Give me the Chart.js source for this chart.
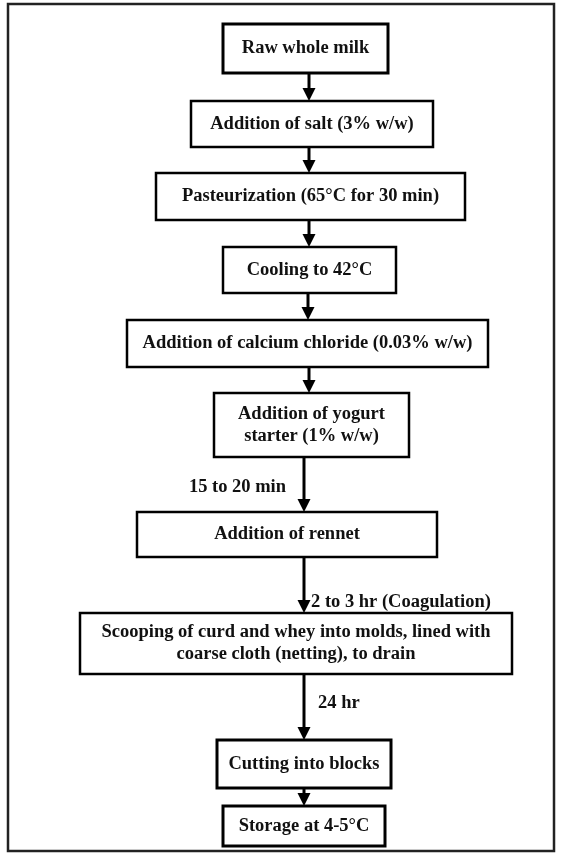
<!DOCTYPE html>
<html>
<head>
<meta charset="utf-8">
<script src="https://cdn.jsdelivr.net/npm/chart.js@4.4.1/dist/chart.umd.min.js"></script>
<style>
  html, body { margin: 0; padding: 0; background: #fff; }
  #wrap { width: 561px; height: 853px; }
</style>
</head>
<body>
<div id="wrap"><canvas id="flow"></canvas></div>
<script>
// process steps, top to bottom
const steps = [
  'Raw whole milk',
  'Addition of salt (3% w/w)',
  'Pasteurization (65°C for 30 min)',
  'Cooling to 42°C',
  'Addition of calcium chloride (0.03% w/w)',
  ['Addition of yogurt', 'starter (1% w/w)'],
  'Addition of rennet',
  ['Scooping of curd and whey into molds, lined with', 'coarse cloth (netting), to drain'],
  'Cutting into blocks',
  'Storage at 4-5°C'
];

// text written next to each arrow (arrow i goes from step i to step i+1)
const arrowLabels = ['', '', '', '', '', '15 to 20 min', '2 to 3 hr (Coagulation)', '24 hr', ''];

// layout, in chart units (0..561 across, 0..853 down)
const boxes = [
  { x0: 223, x1: 388, y0: 24,  y1: 73,  lw: 3 },
  { x0: 191, x1: 433, y0: 101, y1: 147, lw: 2.5 },
  { x0: 156, x1: 465, y0: 173, y1: 220, lw: 2.5 },
  { x0: 223, x1: 396, y0: 247, y1: 293, lw: 2.5 },
  { x0: 127, x1: 488, y0: 320, y1: 367, lw: 2.5 },
  { x0: 214, x1: 409, y0: 393, y1: 457, lw: 2.5 },
  { x0: 137, x1: 437, y0: 512, y1: 557, lw: 2.5 },
  { x0: 80,  x1: 512, y0: 613, y1: 674, lw: 2.5 },
  { x0: 217, x1: 391, y0: 740, y1: 788, lw: 3 },
  { x0: 223, x1: 385, y0: 806, y1: 846, lw: 3 }
];
const arrowX = [309, 309, 309, 308, 309, 304, 304, 304, 304];
const labelPos = [null, null, null, null, null,
  { x: 286, y: 487, align: 'right' },
  { x: 311, y: 602, align: 'left' },
  { x: 318, y: 703, align: 'left' },
  null];
const frame = { x0: 8, x1: 554, y0: 4, y1: 851 };

const FONT = 'bold 18.5px "Liberation Serif", "Times New Roman", serif';
const LINE_H = 22;

const flowPlugin = {
  id: 'flow',
  afterDatasetsDraw(chart) {
    const { ctx, scales: { x, y } } = chart;
    const px = v => x.getPixelForValue(v);
    const py = v => y.getPixelForValue(v);
    ctx.save();

    // outer frame
    ctx.strokeStyle = '#222';
    ctx.lineWidth = 2.5;
    ctx.strokeRect(px(frame.x0), py(frame.y0), px(frame.x1) - px(frame.x0), py(frame.y1) - py(frame.y0));

    // arrows
    ctx.fillStyle = '#000';
    ctx.strokeStyle = '#000';
    arrowX.forEach((ax, i) => {
      const from = boxes[i], to = boxes[i + 1];
      const xx = px(ax), top = py(from.y1), tip = py(to.y0);
      const head = 13, half = 6.5;
      ctx.lineWidth = 3;
      ctx.beginPath();
      ctx.moveTo(xx, top);
      ctx.lineTo(xx, tip - head + 1);
      ctx.stroke();
      ctx.beginPath();
      ctx.moveTo(xx - half, tip - head);
      ctx.lineTo(xx + half, tip - head);
      ctx.lineTo(xx, tip);
      ctx.closePath();
      ctx.fill();

      const lp = labelPos[i];
      if (lp && arrowLabels[i]) {
        ctx.fillStyle = '#111';
        ctx.font = FONT;
        ctx.textAlign = lp.align;
        ctx.textBaseline = 'middle';
        ctx.fillText(arrowLabels[i], px(lp.x), py(lp.y));
        ctx.fillStyle = '#000';
      }
    });

    // boxes and their text
    steps.forEach((label, i) => {
      const b = boxes[i];
      const bx = px(b.x0), by = py(b.y0);
      const bw = px(b.x1) - bx, bh = py(b.y1) - by;
      ctx.fillStyle = '#fff';
      ctx.fillRect(bx, by, bw, bh);
      ctx.strokeStyle = '#000';
      ctx.lineWidth = b.lw;
      ctx.strokeRect(bx, by, bw, bh);

      const lines = Array.isArray(label) ? label : [label];
      ctx.fillStyle = '#111';
      ctx.font = FONT;
      ctx.textAlign = 'center';
      ctx.textBaseline = 'middle';
      const cx = bx + bw / 2, cy = by + bh / 2;
      lines.forEach((ln, k) => {
        ctx.fillText(ln, cx, cy + (k - (lines.length - 1) / 2) * LINE_H);
      });
    });

    ctx.restore();
  }
};

new Chart(document.getElementById('flow'), {
  type: 'scatter',
  data: {
    datasets: [{
      label: 'steps',
      data: boxes.map((b, i) => ({ x: (b.x0 + b.x1) / 2, y: (b.y0 + b.y1) / 2, step: i })),
      pointRadius: 0,
      pointHoverRadius: 0
    }]
  },
  options: {
    responsive: true,
    maintainAspectRatio: false,
    animation: false,
    layout: { padding: 0 },
    plugins: { legend: { display: false }, tooltip: { enabled: false } },
    scales: {
      x: { type: 'linear', min: 0, max: 561, display: false },
      y: { type: 'linear', min: 0, max: 853, reverse: true, display: false }
    }
  },
  plugins: [flowPlugin]
});
</script>
</body>
</html>
